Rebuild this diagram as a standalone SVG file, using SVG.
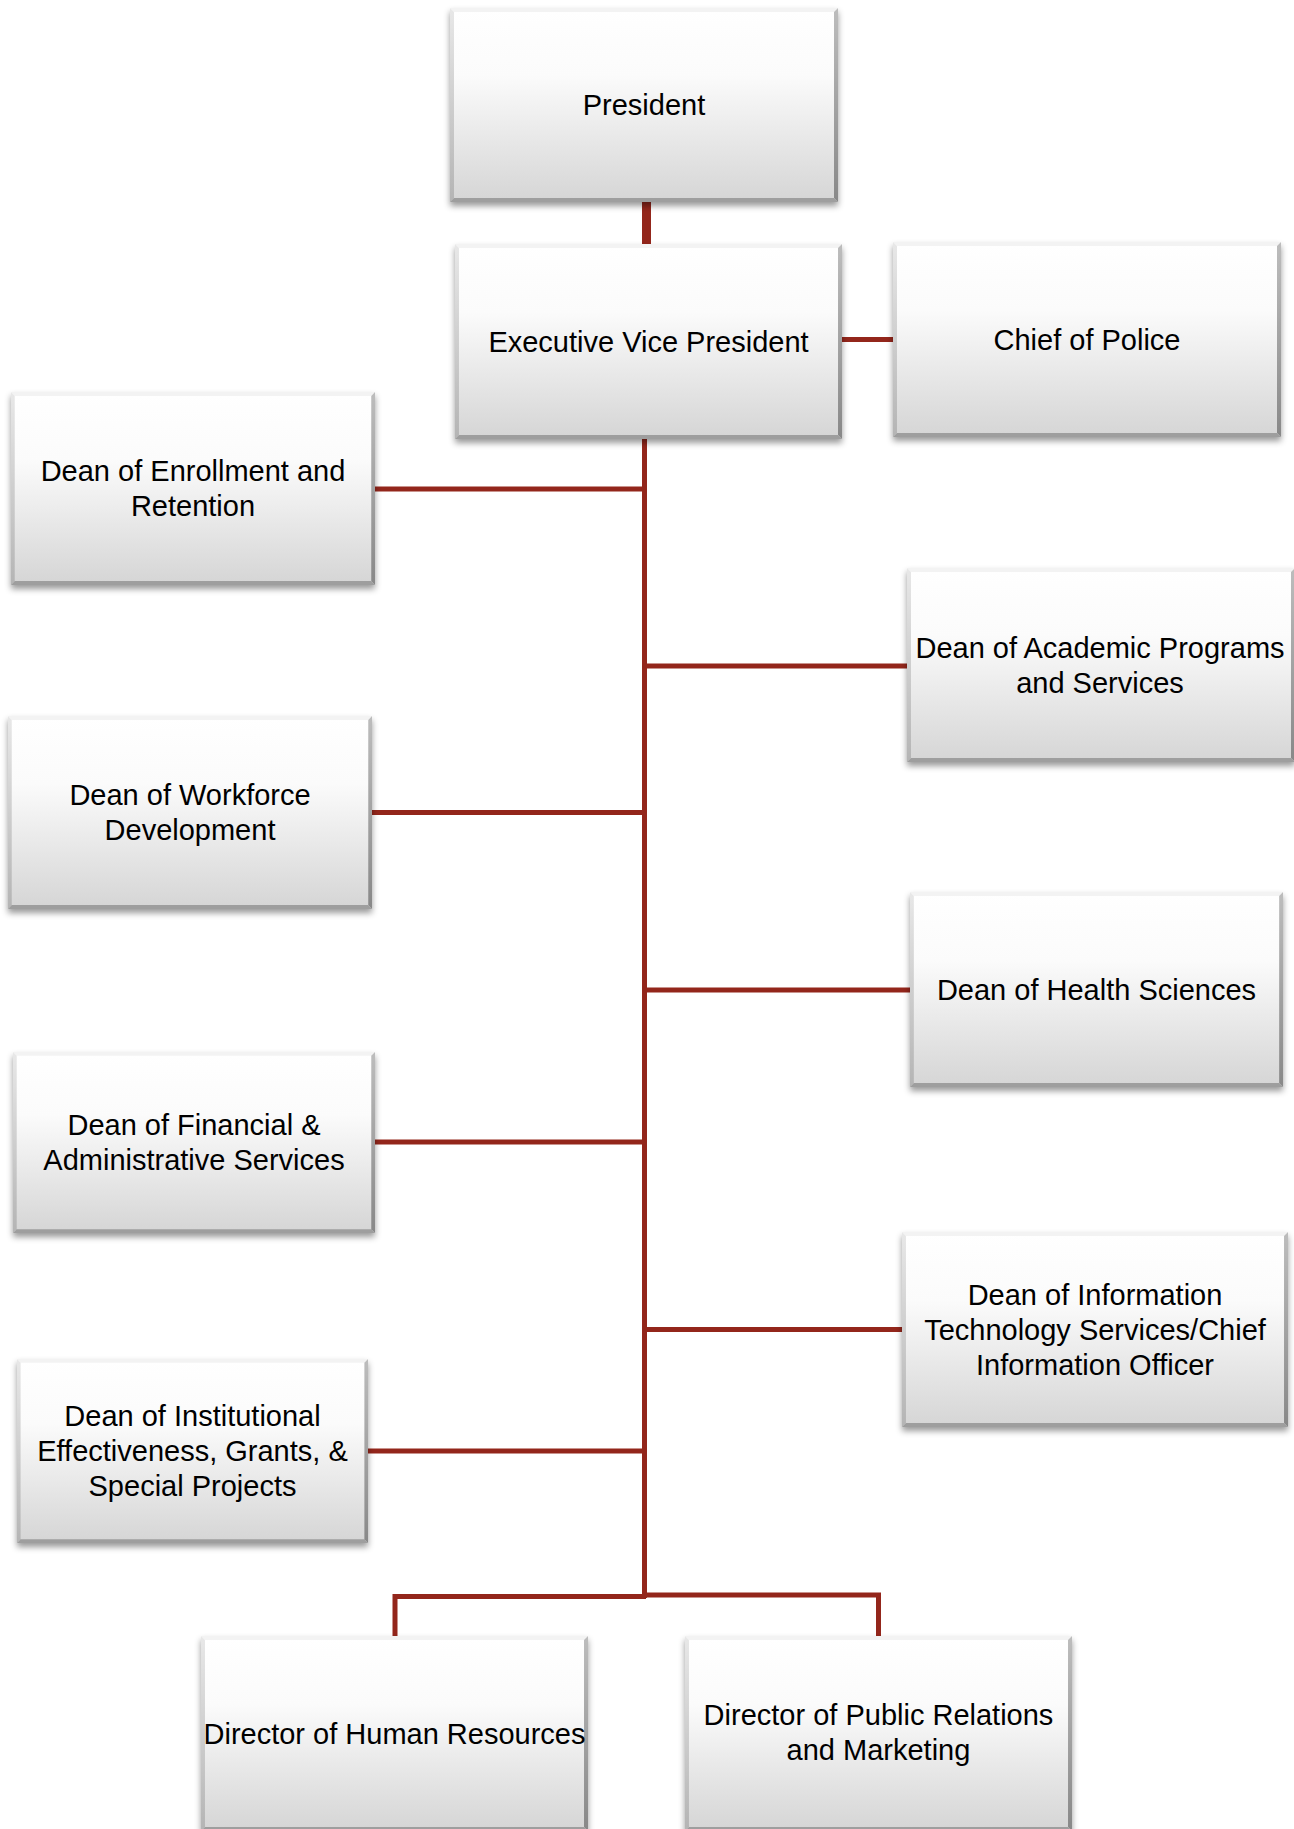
<svg xmlns="http://www.w3.org/2000/svg" xmlns:xlink="http://www.w3.org/1999/xlink" width="1294" height="1829" viewBox="0 0 1294 1829">
<style>
  text { font-family: "Liberation Sans", Arial, sans-serif; font-size: 29px; fill: #000; text-anchor: middle; }
  .conn { fill: none; stroke: #93261b; stroke-width: 5; stroke-linejoin: miter; stroke-linecap: butt; }
  .thick { stroke-width: 9; }
  .node use { filter: url(#shadow); }
</style>
<defs>
  <linearGradient id="face" x1="0" y1="0" x2="0" y2="1">
    <stop offset="0" stop-color="#ffffff"/>
    <stop offset="0.35" stop-color="#fbfbfb"/>
    <stop offset="1" stop-color="#d5d5d5"/>
  </linearGradient>
  <linearGradient id="lb" x1="0" y1="0" x2="0" y2="1">
    <stop offset="0" stop-color="#e8e8e8"/>
    <stop offset="1" stop-color="#b4b4b4"/>
  </linearGradient>
  <linearGradient id="rb" x1="0" y1="0" x2="0" y2="1">
    <stop offset="0" stop-color="#bdbdbd"/>
    <stop offset="1" stop-color="#888888"/>
  </linearGradient>
  <filter id="shadow" x="-5%" y="-5%" width="110%" height="120%">
    <feDropShadow dx="0" dy="4" stdDeviation="3" flood-color="#000" flood-opacity="0.4"/>
  </filter>
  <symbol id="box" viewBox="0 0 388 195" preserveAspectRatio="none">
    <rect x="0" y="0" width="388" height="195" fill="url(#face)"/>
    <polygon points="0,0 388,0 384,4 4,4" fill="#f3f3f3"/>
    <polygon points="0,0 4,4 4,191 0,195" fill="url(#lb)"/>
    <polygon points="388,0 388,195 384,191 384,4" fill="url(#rb)"/>
    <polygon points="0,195 4,191 384,191 388,195" fill="#9e9e9e"/>
  </symbol>
</defs>
<rect x="0" y="0" width="1294" height="1829" fill="#ffffff"/>

<g id="connectors">
  <line class="conn thick" x1="646.5" y1="202" x2="646.5" y2="244"/>
  <line class="conn" x1="842" y1="339.5" x2="893" y2="339.5"/>
  <line class="conn" x1="644.5" y1="439" x2="644.5" y2="1598"/>
  <line class="conn" x1="375" y1="489" x2="644.5" y2="489"/>
  <line class="conn" x1="644.5" y1="666" x2="907" y2="666"/>
  <line class="conn" x1="372" y1="812.5" x2="644.5" y2="812.5"/>
  <line class="conn" x1="644.5" y1="990" x2="910" y2="990"/>
  <line class="conn" x1="375" y1="1142" x2="644.5" y2="1142"/>
  <line class="conn" x1="644.5" y1="1329.5" x2="902" y2="1329.5"/>
  <line class="conn" x1="368" y1="1451" x2="644.5" y2="1451"/>
  <path class="conn" d="M395,1636 V1596.5 H646"/>
  <path class="conn" d="M643,1595 H878.5 V1636"/>
</g>

<g id="president" class="node">
  <use xlink:href="#box" href="#box" x="450" y="8" width="388" height="194"/>
  <text x="644" y="115">President</text>
</g>
<g id="evp" class="node">
  <use xlink:href="#box" href="#box" x="455" y="244" width="387" height="195"/>
  <text x="648.5" y="351.5">Executive Vice President</text>
</g>
<g id="police" class="node">
  <use xlink:href="#box" href="#box" x="893" y="242" width="388" height="195"/>
  <text x="1087" y="349.5">Chief of Police</text>
</g>
<g id="enrollment" class="node">
  <use xlink:href="#box" href="#box" x="11" y="392" width="364" height="193"/>
  <text x="193" y="481">Dean of Enrollment and</text>
  <text x="193" y="516">Retention</text>
</g>
<g id="academic" class="node">
  <use xlink:href="#box" href="#box" x="907" y="568" width="388" height="194"/>
  <text x="1100" y="657.5">Dean of Academic Programs</text>
  <text x="1100" y="692.5">and Services</text>
</g>
<g id="workforce" class="node">
  <use xlink:href="#box" href="#box" x="8" y="716" width="364" height="193"/>
  <text x="190" y="805">Dean of Workforce</text>
  <text x="190" y="840">Development</text>
</g>
<g id="health" class="node">
  <use xlink:href="#box" href="#box" x="910" y="892" width="373" height="195"/>
  <text x="1096.5" y="999.5">Dean of Health Sciences</text>
</g>
<g id="financial" class="node">
  <use xlink:href="#box" href="#box" x="13" y="1052" width="362" height="181"/>
  <text x="194" y="1135">Dean of Financial &amp;</text>
  <text x="194" y="1170">Administrative Services</text>
</g>
<g id="it" class="node">
  <use xlink:href="#box" href="#box" x="902" y="1232" width="386" height="195"/>
  <text x="1095" y="1304.5">Dean of Information</text>
  <text x="1095" y="1339.5">Technology Services/Chief</text>
  <text x="1095" y="1374.5">Information Officer</text>
</g>
<g id="institutional" class="node">
  <use xlink:href="#box" href="#box" x="17" y="1359" width="351" height="184"/>
  <text x="192.5" y="1426">Dean of Institutional</text>
  <text x="192.5" y="1461">Effectiveness, Grants, &amp;</text>
  <text x="192.5" y="1496">Special Projects</text>
</g>
<g id="hr" class="node">
  <use xlink:href="#box" href="#box" x="201" y="1636" width="387" height="195"/>
  <text x="394.5" y="1743.5">Director of Human Resources</text>
</g>
<g id="pr" class="node">
  <use xlink:href="#box" href="#box" x="685" y="1636" width="387" height="195"/>
  <text x="878.5" y="1725">Director of Public Relations</text>
  <text x="878.5" y="1760">and Marketing</text>
</g>
</svg>
